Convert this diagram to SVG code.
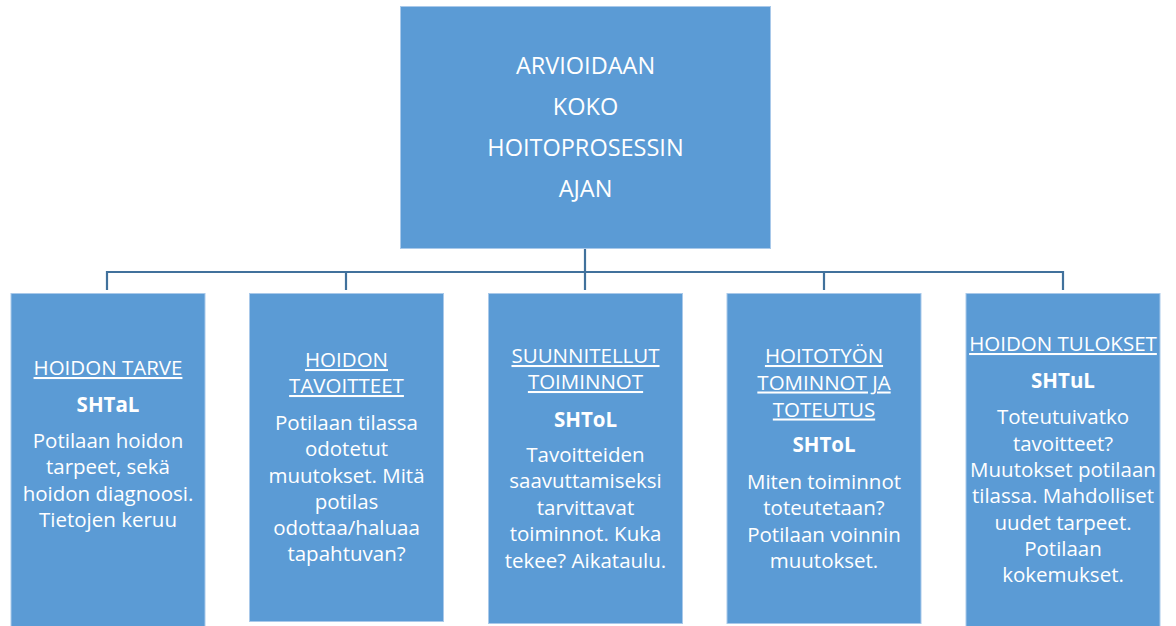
<svg xmlns="http://www.w3.org/2000/svg" width="1176" height="626" viewBox="0 0 1176 626">
<style>
.box{fill:#5B9BD5;stroke:#A9C9EA;stroke-width:1}
.t{font-family:"Open Sans","Liberation Sans",sans-serif;fill:#FFFFFF;text-anchor:middle;font-size:20.5px}
.top{font-size:23.5px}
.h{text-decoration:underline}
.b{font-weight:bold}
.con{stroke:#41719C;stroke-width:2.2;fill:none}
</style>
<rect width="1176" height="626" fill="#FFFFFF"/>
<g id="connectors">
<path class="con" d="M585,249 V290 M107,290 V272 H1063 V290 M346,272 V290 M824,272 V290"/>
</g>
<g id="node-top">
<rect class="box" x="400.5" y="6.5" width="370" height="242"/>
<text class="t top" x="585.5" y="74">ARVIOIDAAN</text>
<text class="t top" x="585.5" y="115">KOKO</text>
<text class="t top" x="585.5" y="156">HOITOPROSESSIN</text>
<text class="t top" x="585.5" y="197">AJAN</text>
</g>
<g id="node-1">
<rect class="box" x="11" y="293.5" width="194" height="333"/>
<text class="t h" x="108" y="375">HOIDON TARVE</text>
<text class="t b" x="108" y="412">SHTaL</text>
<text class="t" x="108" y="448">Potilaan hoidon</text>
<text class="t" x="108" y="474">tarpeet, sekä</text>
<text class="t" x="108" y="501">hoidon diagnoosi.</text>
<text class="t" x="108" y="527">Tietojen keruu</text>
</g>
<g id="node-2">
<rect class="box" x="249.5" y="293.5" width="194" height="328"/>
<text class="t h" x="346.5" y="367">HOIDON</text>
<text class="t h" x="346.5" y="393">TAVOITTEET</text>
<text class="t" x="346.5" y="430">Potilaan tilassa</text>
<text class="t" x="346.5" y="456">odotetut</text>
<text class="t" x="346.5" y="483">muutokset. Mitä</text>
<text class="t" x="346.5" y="509">potilas</text>
<text class="t" x="346.5" y="535">odottaa/haluaa</text>
<text class="t" x="346.5" y="561">tapahtuvan?</text>
</g>
<g id="node-3">
<rect class="box" x="488.5" y="293.5" width="194" height="330"/>
<text class="t h" x="585.5" y="363">SUUNNITELLUT</text>
<text class="t h" x="585.5" y="389">TOIMINNOT</text>
<text class="t b" x="585.5" y="427">SHToL</text>
<text class="t" x="585.5" y="462">Tavoitteiden</text>
<text class="t" x="585.5" y="488">saavuttamiseksi</text>
<text class="t" x="585.5" y="515">tarvittavat</text>
<text class="t" x="585.5" y="541">toiminnot. Kuka</text>
<text class="t" x="585.5" y="568">tekee? Aikataulu.</text>
</g>
<g id="node-4">
<rect class="box" x="727" y="293.5" width="194" height="330"/>
<text class="t h" x="824" y="363">HOITOTYÖN</text>
<text class="t h" x="824" y="389.5">TOMINNOT JA</text>
<text class="t h" x="824" y="416.5">TOTEUTUS</text>
<text class="t b" x="824" y="452">SHToL</text>
<text class="t" x="824" y="489">Miten toiminnot</text>
<text class="t" x="824" y="515">toteutetaan?</text>
<text class="t" x="824" y="542">Potilaan voinnin</text>
<text class="t" x="824" y="568">muutokset.</text>
</g>
<g id="node-5">
<rect class="box" x="966" y="293.5" width="194" height="333"/>
<text class="t h" x="1063" y="351">HOIDON TULOKSET</text>
<text class="t b" x="1063" y="388">SHTuL</text>
<text class="t" x="1063" y="424">Toteutuivatko</text>
<text class="t" x="1063" y="451">tavoitteet?</text>
<text class="t" x="1063" y="477">Muutokset potilaan</text>
<text class="t" x="1063" y="503">tilassa. Mahdolliset</text>
<text class="t" x="1063" y="530">uudet tarpeet.</text>
<text class="t" x="1063" y="556">Potilaan</text>
<text class="t" x="1063" y="582">kokemukset.</text>
</g>
</svg>
